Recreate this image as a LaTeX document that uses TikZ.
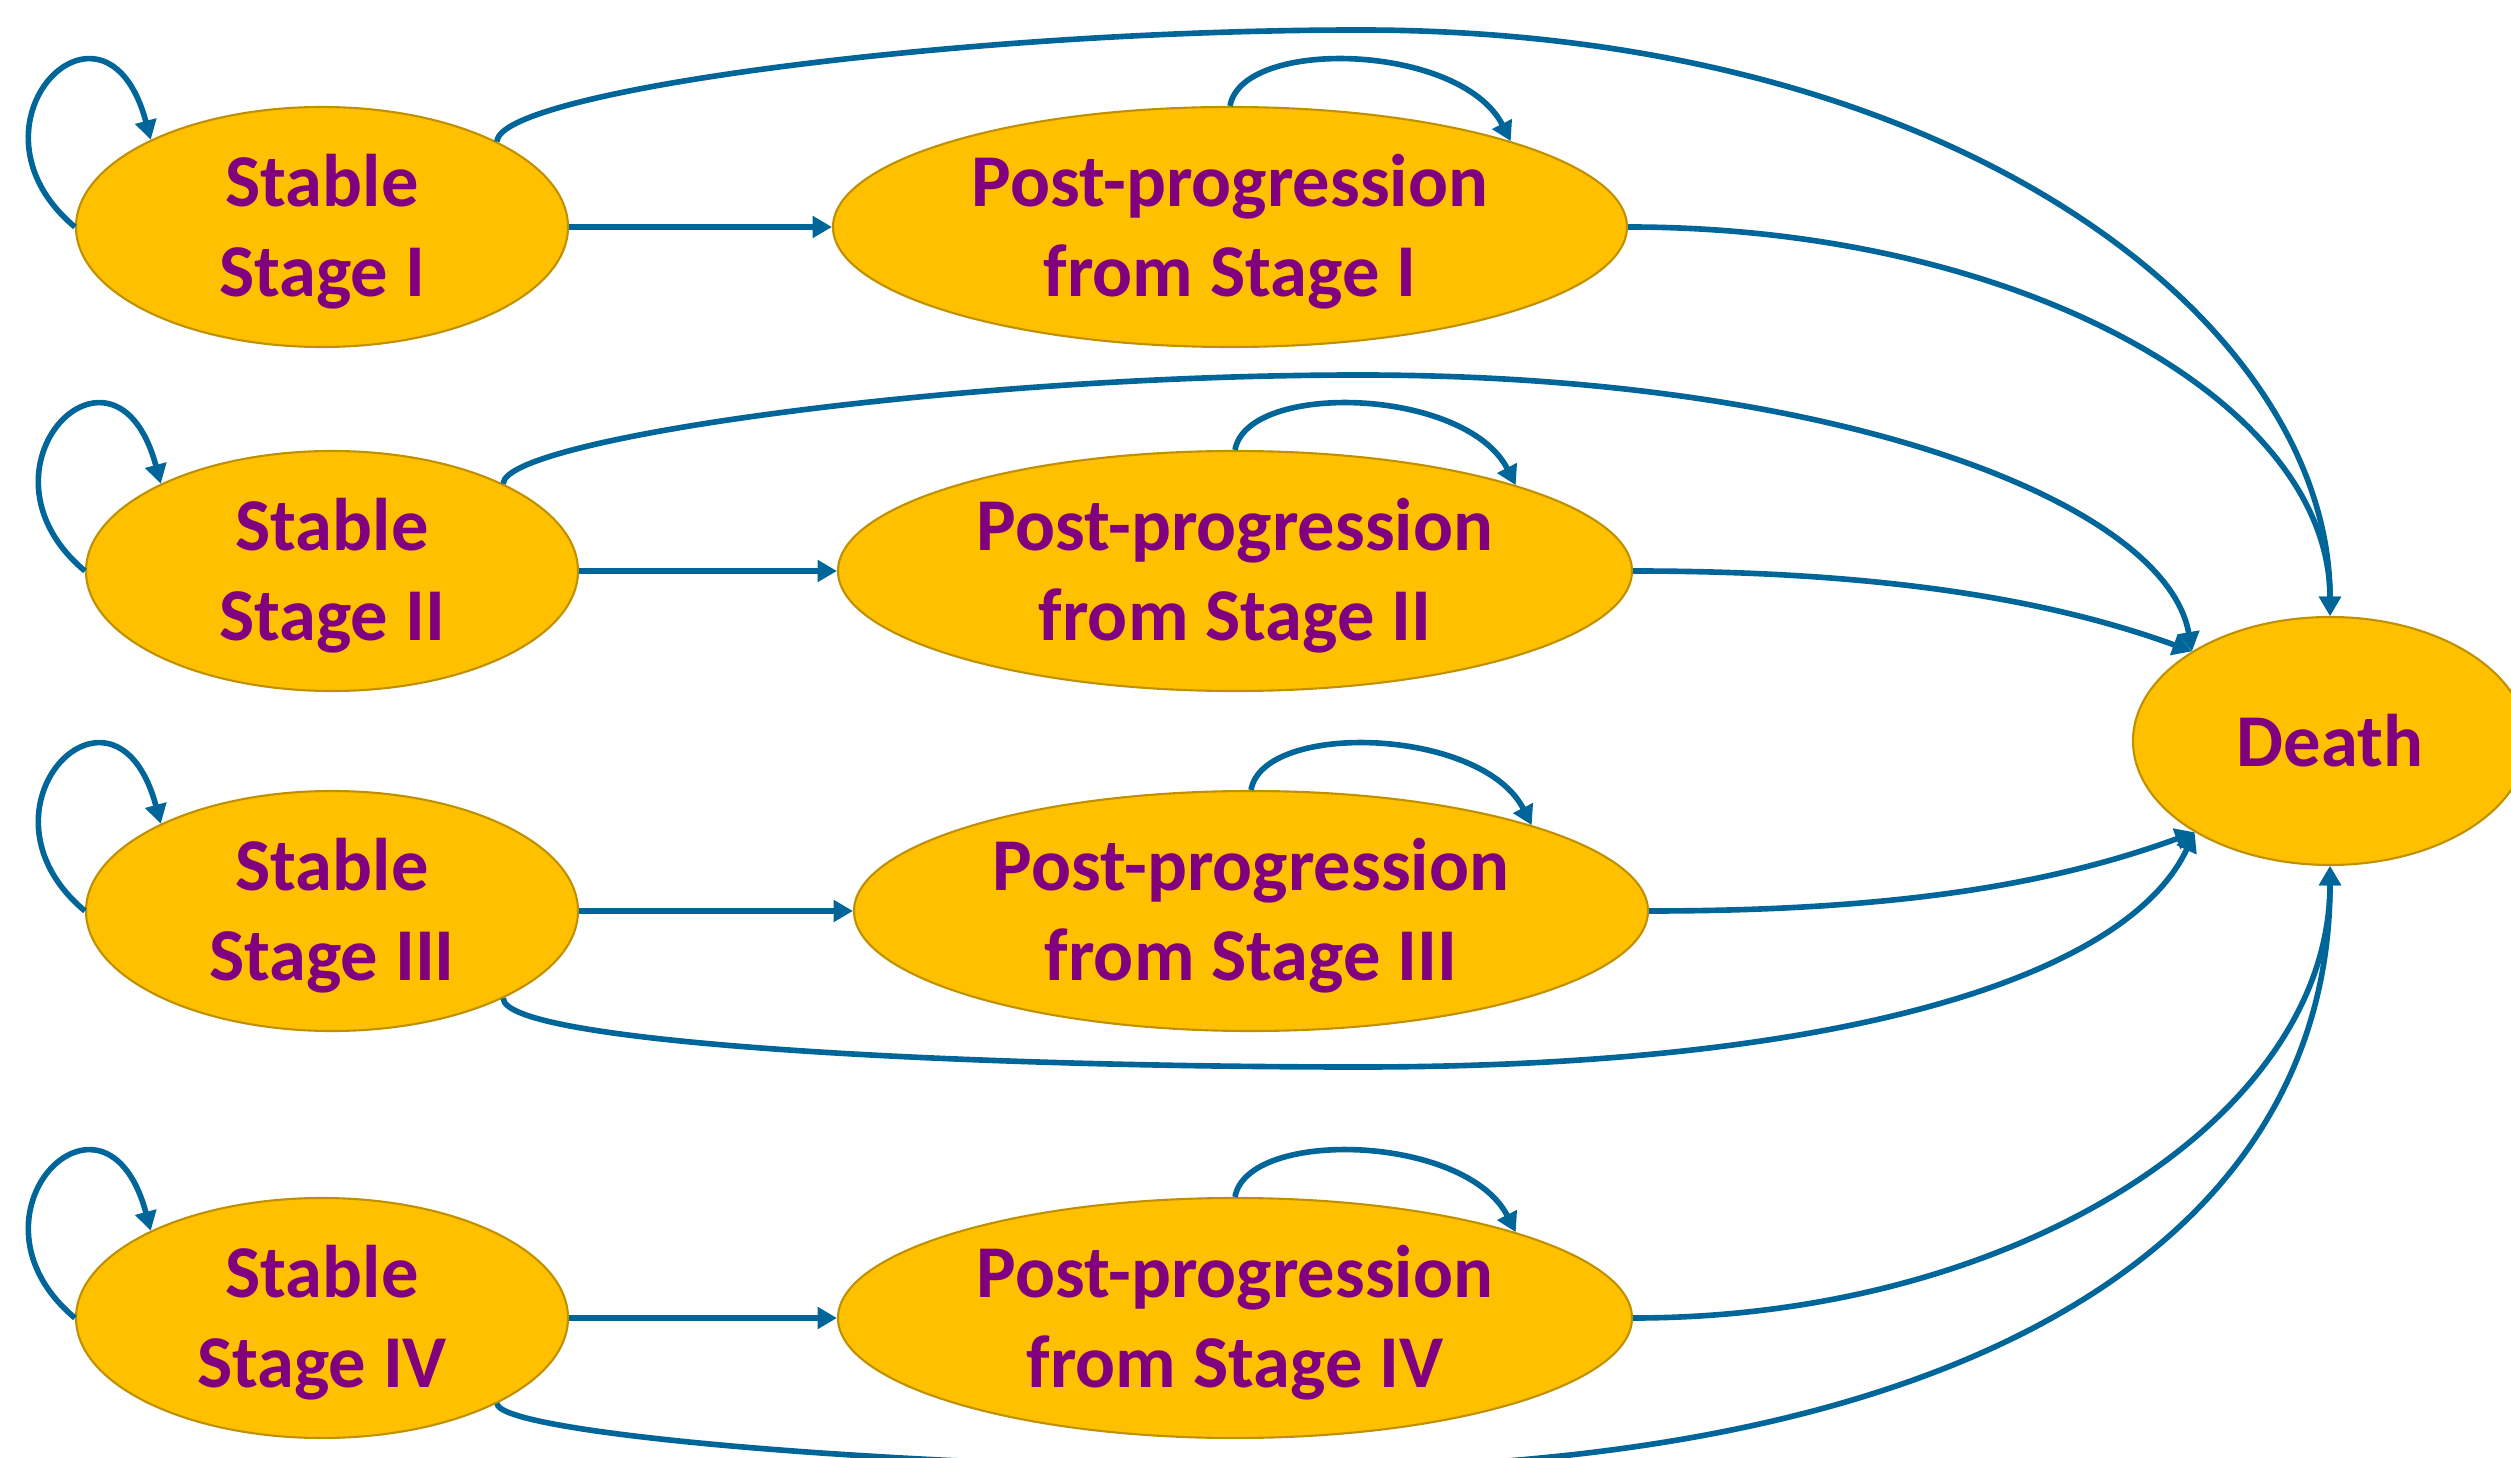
\documentclass[tikz,border=0pt]{standalone}
\usepackage{fontspec}
\setmainfont{Carlito}
\usetikzlibrary{shapes.geometric,arrows.meta}
\definecolor{stategold}{RGB}{255,192,0}
\definecolor{stateedge}{RGB}{191,144,0}
\definecolor{statetext}{RGB}{128,0,128}
\definecolor{flowblue}{RGB}{0,102,153}

\begin{document}
\begin{tikzpicture}[>={Triangle[width=6pt,length=5.5pt]},
    state/.style={ellipse,draw=stateedge,line width=0.6pt,fill=stategold,inner sep=0pt,
      minimum height=2.4cm,text=statetext,align=center,
      font=\fontsize{21.2}{25.6}\selectfont\bfseries},
    twoline/.style={state,text depth=1pt},
    stable/.style={twoline,minimum width=4.92cm},
    post/.style={twoline,minimum width=7.94cm},
    flow/.style={->,draw=flowblue,line width=1.6pt}]
  \useasboundingbox (0,0) rectangle (25.11,14.57);

  % states
  \node[stable] (s1) at (3.22,12.30) {Stable\\Stage I};
  \node[stable] (s2) at (3.32,8.86) {Stable\\Stage II};
  \node[stable] (s3) at (3.32,5.46) {Stable\\Stage III};
  \node[stable] (s4) at (3.22,1.39) {Stable\\Stage IV};
  \node[post] (p1) at (12.30,12.30) {Post-progression\\from Stage I};
  \node[post] (p2) at (12.35,8.86) {Post-progression\\from Stage II};
  \node[post] (p3) at (12.51,5.46) {Post-progression\\from Stage III};
  \node[post] (p4) at (12.35,1.39) {Post-progression\\from Stage IV};
  \node[state,minimum width=3.94cm,minimum height=2.48cm] (death) at (23.30,7.16) {Death};

  % staying in a state
  \foreach \s in {s1,s2,s3,s4}
    \draw[flow] (\s.west) .. controls +(140:1.6) and +(105:1.75) .. (\s.153);
  \foreach \p in {p1,p2,p3,p4}
    \draw[flow] (\p.north) .. controls +(80:0.7) and +(117:1.1) .. (\p.17);

  % progression
  \foreach \i in {1,...,4}
    \draw[flow] (s\i.east) -- (p\i.west);

  % death
  \draw[flow] (s1.26) .. controls +(0,0.5) and (9.6,14.27) .. (13.6,14.27)
    .. controls (19.6,14.27) and (23.3,11.33) .. (death.north);
  \draw[flow] (p1.east) .. controls +(3.88,0) and +(0,2.16) .. (death.north);
  \draw[flow] (s2.27) .. controls +(0,0.45) and (9.6,10.82) .. (13.6,10.82)
    .. controls (18.4,10.82) and +(100:1.5) .. (death.147);
  \draw[flow] (p2.east) .. controls +(2.5,0) and +(160:1.5) .. (death.147);
  \draw[flow] (s3.-27) .. controls +(0,-0.45) and (9.6,3.90) .. (13.6,3.90)
    .. controls (18.4,3.90) and +(245:1.6) .. (death.214);
  \draw[flow] (p3.east) .. controls +(2.5,0) and +(200:1.5) .. (death.214);
  \draw[flow] (s4.-26) .. controls +(0,-0.3) and (9.0,-0.12) .. (13.0,-0.12)
    .. controls (19.6,-0.12) and (23.3,2.12) .. (death.south);
  \draw[flow] (p4.east) .. controls +(3.85,0) and +(0,-2.5) .. (death.south);
\end{tikzpicture}
\end{document}
